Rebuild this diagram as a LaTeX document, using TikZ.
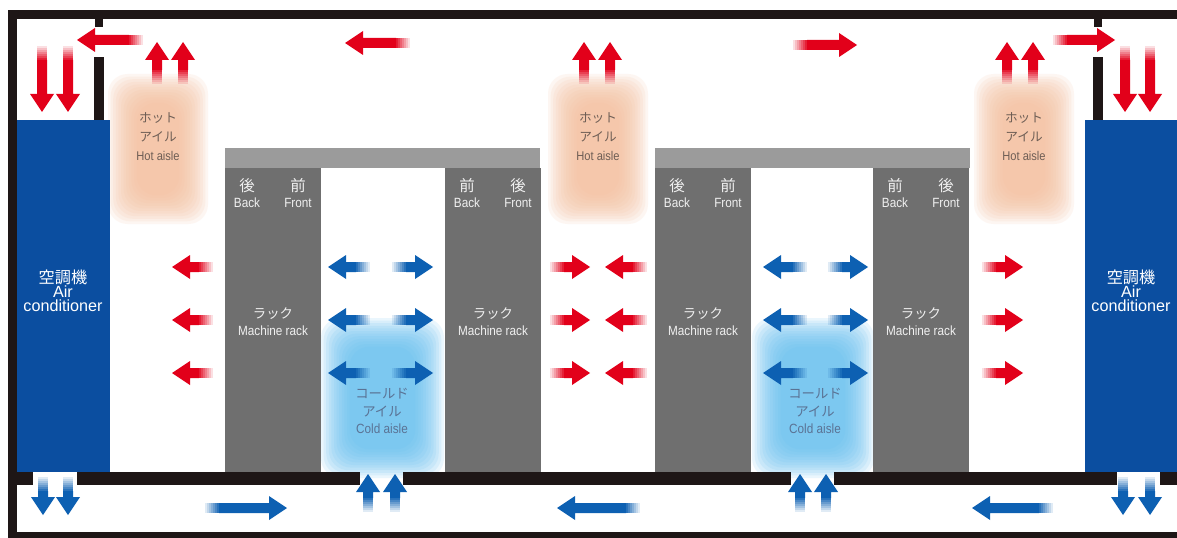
\documentclass[tikz,border=0pt]{standalone}
\usepackage{fontspec}
\setmainfont{Liberation Sans}[FakeStretch=0.88]
\newfontfamily\jpfont{Noto Sans CJK JP}
\newfontfamily\acfont{Liberation Sans}
\usetikzlibrary{calc}
\definecolor{wallblack}{HTML}{1E1616}
\definecolor{acblue}{HTML}{0B4EA0}
\definecolor{rackgray}{HTML}{6F6F6F}
\definecolor{roofgray}{HTML}{9B9B9B}
\definecolor{hotred}{HTML}{E2001A}
\definecolor{coldblue}{HTML}{0D60B2}
\definecolor{hotglow}{HTML}{F5BE9C}
\definecolor{coldglow}{HTML}{62BFF0}
\definecolor{hottext}{HTML}{6E5E55}
\definecolor{coldtext}{HTML}{5A7294}

% fat air-flow arrow: [colour]{direction}{tip}{length}, tail fades out
\newcommand{\airflow}[4][hotred]{%
  \begin{scope}[shift={(#3)}, rotate=#2]
    \fill[#1] (0,0) -- (-18,12) -- (-18,5) -- ({-#4+14},5) -- ({-#4+14},-5)
      -- (-18,-5) -- (-18,-12) -- cycle;
    \foreach \k [evaluate=\k as \op using \k/8] in {1,...,7}
      \fill[#1, opacity=\op] ({-#4+2*\k-2},-5) rectangle ({-#4+2*\k},5);
  \end{scope}}

% soft glow patch: {colour}{top left}{bottom right}
\newcommand{\glowpatch}[3]{%
  \foreach \g in {0,...,11}
    \fill[#1, opacity=0.13, rounded corners=14pt]
      ($(#2)+(2.6*\g,2.6*\g)$) rectangle ($(#3)-(2.6*\g,2.6*\g)$);}

\begin{document}
\begin{tikzpicture}[x=0.025cm, y=-0.025cm,
    wall/.style      = {fill=wallblack},
    rackbody/.style  = {fill=rackgray},
    rackroof/.style  = {fill=roofgray},
    aircon/.style    = {fill=acblue},
    sidelabel/.style = {text=white!94!black, align=center, inner sep=0pt,
                        font=\fontsize{9.5}{11.5}\selectfont},
    racklabel/.style = {text=white!94!black, align=center, inner sep=0pt,
                        font=\fontsize{9.5}{12}\selectfont},
    hotlabel/.style  = {text=hottext, align=center, inner sep=0pt,
                        font=\fontsize{9}{13.5}\selectfont},
    coldlabel/.style = {text=coldtext, align=center, inner sep=0pt,
                        font=\fontsize{9.5}{12.4}\selectfont},
    aclabel/.style   = {text=white, align=center, inner sep=0pt,
                        font=\acfont\fontsize{11.5}{10}\selectfont},
  ]

    \useasboundingbox (0,0) rectangle (1177,538);
    \fill[white] (0,0) rectangle (1177,538);

    %% ── Aisle glows ─────────────────────────────────────────────────────────
    \glowpatch{hotglow}{108,74}{208,224}
    \glowpatch{hotglow}{548,74}{648,224}
    \glowpatch{hotglow}{974,74}{1074,224}
    \glowpatch{coldglow}{321,318}{444,478}
    \glowpatch{coldglow}{752,318}{874,478}

    %% ── Walls, raised floor, partitions ─────────────────────────────────────
    \fill[wall] (8,10) rectangle (1177,19);
    \fill[wall] (8,10) rectangle (17,538);
    \fill[wall] (8,532) rectangle (1177,538);
    \fill[white] (17,485) rectangle (1177,532);
    \foreach \a/\b in {17/33, 77/360, 403/791, 834/1117, 1160/1177}
      \fill[wall] (\a,472) rectangle (\b,485);
    \foreach \px in {94,1093} {
      \fill[wall] (\px,57) rectangle (\px+10,120);
      \fill[wall] (\px+1,19) rectangle (\px+9,27);
    }

    %% ── Air conditioners ───────────────────────────────────────────────────
    \fill[aircon] (17,120) rectangle (110,472);
    \fill[aircon] (1085,120) rectangle (1177,472);
    \node[aclabel] (acleft)  at (63,291)   {{\jpfont 空調機}\\Air\\conditioner};
    \node[aclabel] (acright) at (1131,291) {{\jpfont 空調機}\\Air\\conditioner};

    %% ── Racks ──────────────────────────────────────────────────────────────
    \foreach \rx in {225,655}
      \fill[rackroof] (\rx,148) rectangle (\rx+315,168);
    \foreach \rx/\lk/\rk/\n in {225/後/前/a, 445/前/後/b, 655/後/前/c, 873/前/後/d} {
      \fill[rackbody] (\rx,168) rectangle (\rx+96,472);
      \node[sidelabel] (back\n)  at (\rx+22,193)
        {{\jpfont\fontsize{11}{11}\selectfont \lk}\\Back};
      \node[sidelabel] (front\n) at (\rx+73,193)
        {{\jpfont\fontsize{11}{11}\selectfont \rk}\\Front};
      \node[racklabel] (rack\n)  at (\rx+48,322) {{\jpfont ラック}\\Machine rack};
    }

    %% ── Aisle labels ───────────────────────────────────────────────────────
    \foreach \hx/\n in {158/a, 598/b, 1024/c}
      \node[hotlabel] (hot\n) at (\hx,137) {{\jpfont ホット}\\{\jpfont アイル}\\Hot aisle};
    \foreach \cx/\n in {382/a, 815/b}
      \node[coldlabel] (cold\n) at (\cx,411) {{\jpfont コールド}\\{\jpfont アイル}\\Cold aisle};

    %% ── Hot air (red) ──────────────────────────────────────────────────────
    \airflow{180}{77,40}{66}
    \airflow{180}{345,43}{65}
    \airflow{0}{857,45}{64}
    \airflow{0}{1115,40}{62}
    \foreach \ux in {157,183,584,610,1007,1033} {
      \airflow{90}{\ux,42}{42}
    }
    \foreach \dx in {42,68,1125,1150} {
      \airflow{270}{\dx,112}{66}
    }
    \foreach \y in {267,320,373} {
      \airflow{180}{172,\y}{41}
      \airflow{0}{590,\y}{40}
      \airflow{180}{605,\y}{42}
      \airflow{0}{1023,\y}{41}
    }

    %% ── Cold air (blue) ────────────────────────────────────────────────────
    \foreach \y in {267,320,373} {
      \airflow[coldblue]{180}{328,\y}{42}
      \airflow[coldblue]{0}{433,\y}{41}
      \airflow[coldblue]{180}{763,\y}{44}
      \airflow[coldblue]{0}{868,\y}{40}
    }
    \foreach \ux in {368,395,800,826} {
      \airflow[coldblue]{90}{\ux,474}{38}
    }
    \foreach \dx in {43,68,1123,1150} {
      \airflow[coldblue]{270}{\dx,515}{38}
    }
    \airflow[coldblue]{0}{287,508}{82}
    \airflow[coldblue]{180}{557,508}{83}
    \airflow[coldblue]{180}{972,508}{81}

\end{tikzpicture}
\end{document}
